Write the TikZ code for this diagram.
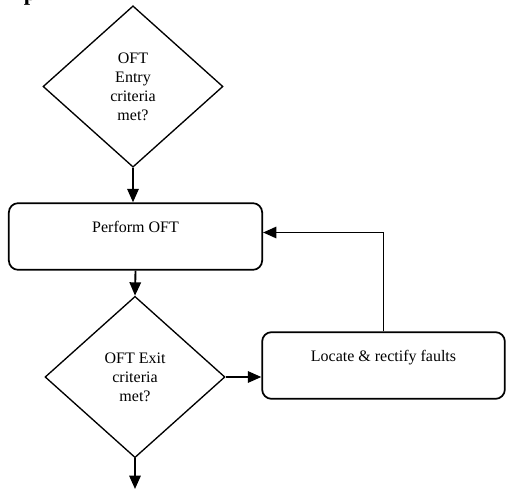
\documentclass[tikz,border=0pt]{standalone}
\usepackage{fontspec}
\setmainfont{Liberation Serif}
\usetikzlibrary{arrows.meta}
\usetikzlibrary{shapes.geometric}

\begin{document}
\begin{tikzpicture}[x=0.75pt, y=-0.75pt, ->, >={Triangle[length=10pt,width=8.5pt]}, line width=1.4pt,
    font=\fontsize{12}{14.25}\selectfont,
    decision/.style = {draw, diamond, align=center, inner sep=0pt, line width=1pt, minimum width=135pt, minimum height=121pt},
    process/.style = {draw, rectangle, rounded corners=7pt, align=center, line width=1.3pt, minimum height=50pt}]
    \useasboundingbox (0,0) rectangle (507,489);

    % heading cut off at the top
    \node[anchor=base west, inner sep=0pt, font=\fontsize{17}{20}\selectfont\bfseries] (head) at (23,0) {p};

    % Nodes
    \node[decision] (entry) at (133,86.5) {OFT\\Entry\\criteria\\met?};
    \node[process, minimum width=190pt] (perf) at (135.5,236.5) {Perform OFT\\ \mbox{}};
    \node[decision] (exit) at (135,377) {OFT Exit\\criteria\\met?};
    \node[process, minimum width=182pt] (fix) at (383.5,365.5) {Locate \& rectify faults\\ \mbox{}};
    \coordinate (end) at (135,489);

    % Edges
    \draw (entry.south) -- (perf.north -| entry.south);
    \draw (perf.south) -- (exit.north);
    \draw (exit.east) -- (exit.east -| fix.west);
    \draw (fix.north) |- ([yshift=3pt]perf.east);
    \draw (exit.south) -- (end);

\end{tikzpicture}
\end{document}
